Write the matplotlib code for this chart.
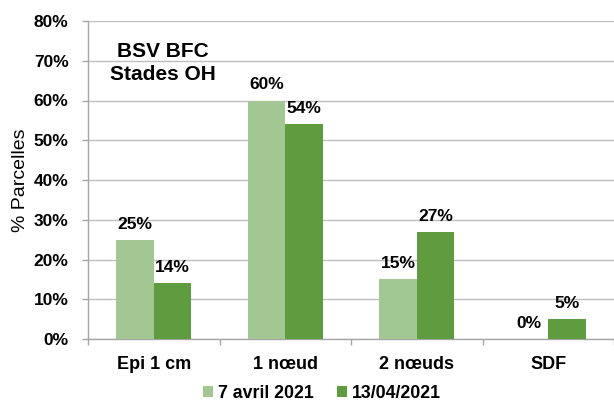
import matplotlib
matplotlib.use("Agg")
import matplotlib.pyplot as plt
import numpy as np
from matplotlib.ticker import FixedLocator, PercentFormatter

categories = ["Epi 1 cm", "1 nœud", "2 nœuds", "SDF"]
series_names = ["7 avril 2021", "13/04/2021"]
values_7avril = [25, 60, 15, 0]
values_1304 = [14, 54, 27, 5]
yticks = [0, 10, 20, 30, 40, 50, 60, 70, 80]
colors = ["#A3C793", "#5F9B3F"]

plt.rcParams['font.family'] = ['Liberation Sans', 'DejaVu Sans']

fig = plt.figure(figsize=(6.14, 4.03), dpi=100)
W, H = 614, 403
left_px, right_px, top_px, bot_px = 88, 614, 21, 339
ax = fig.add_axes([left_px / W, (H - bot_px) / H, (right_px - left_px) / W, (bot_px - top_px) / H])

x = np.arange(len(categories))
bw = 0.287
b1 = ax.bar(x - bw / 2, values_7avril, bw, color=colors[0], label=series_names[0], zorder=3)
b2 = ax.bar(x + bw / 2, values_1304, bw, color=colors[1], label=series_names[1], zorder=3)

for bars, vals in ((b1, values_7avril), (b2, values_1304)):
    for rect, v in zip(bars, vals):
        ax.annotate(f"{v}%", (rect.get_x() + rect.get_width() / 2, rect.get_height()),
                    xytext=(0, 8), textcoords="offset points", ha="center", va="baseline",
                    fontsize=12.5, fontweight="bold", zorder=5)

ax.set_xlim(-0.5, -0.5 + (right_px - left_px) / 134.0)
ax.set_ylim(0, 80)
ax.yaxis.set_major_locator(FixedLocator(yticks))
ax.yaxis.set_major_formatter(PercentFormatter(decimals=0))
ax.grid(axis="y", color="#BFBFBF", linewidth=1.0, zorder=0)
ax.set_axisbelow(True)

ax.set_xticks(x)
ax.set_xticklabels(categories, fontsize=13, fontweight="bold")
ax.set_xticks(np.arange(-0.5, len(categories) + 0.5, 1.0), minor=True)
ax.tick_params(axis="x", which="major", length=0, pad=12)
ax.tick_params(axis="x", which="minor", length=4, color="#A6A6A6", width=1)
ax.tick_params(axis="y", length=4, color="#A6A6A6", width=1, pad=10)
for lab in ax.get_yticklabels():
    lab.set_fontweight("bold")
    lab.set_fontsize(12.5)

for s in ("top", "right"):
    ax.spines[s].set_visible(False)
for s in ("left", "bottom"):
    ax.spines[s].set_color("#A6A6A6")
    ax.spines[s].set_linewidth(1)

fig.text(21 / W, (H - (bot_px + top_px) / 2) / H, "% Parcelles", rotation=90,
         ha="center", va="center", fontsize=14)

fig.text(163 / W, 1 - 63 / H, "BSV BFC\nStades OH", ha="center", va="center",
         fontsize=15, fontweight="bold", linespacing=1.25)

leg = fig.legend(handles=[b1, b2], labels=series_names, loc="center", bbox_to_anchor=(322 / W, 1 - 393 / H),
                 ncol=2, frameon=False, prop={"weight": "bold", "size": 12.8},
                 handlelength=0.55, handleheight=0.55, handletextpad=0.3, columnspacing=1.3)

fig.savefig("out.png", dpi=100)
